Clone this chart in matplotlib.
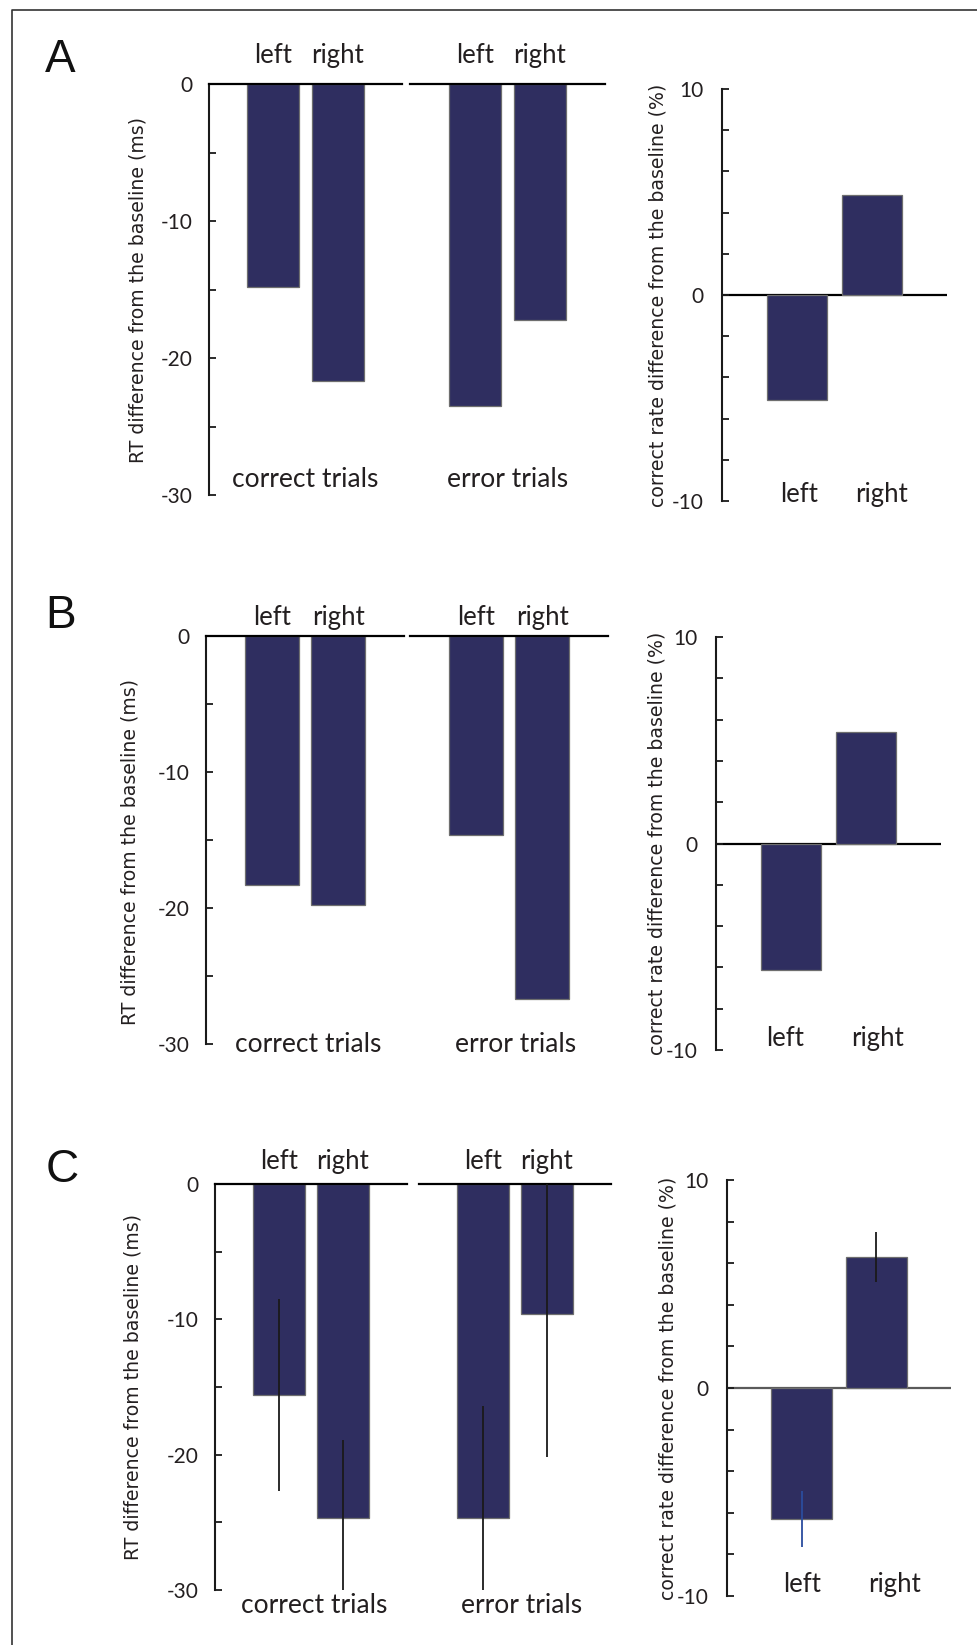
import matplotlib
matplotlib.use("Agg")
import matplotlib.pyplot as plt
from matplotlib.lines import Line2D
from matplotlib.ticker import MultipleLocator

# ---------------- data ----------------
sides = ["left", "right"]
trial_types = ["correct trials", "error trials"]
panel_letters = ["A", "B", "C"]
rt_ticks = [0, -10, -20, -30]
rate_ticks = [10, 0, -10]
rt_ylabel = "RT difference from the baseline (ms)"
rate_ylabel = "correct rate difference from the baseline (%)"

A_rt_correct = [-14.8, -21.7]
A_rt_error = [-23.5, -17.2]
A_rate = [-5.1, 4.85]

B_rt_correct = [-18.3, -19.75]
B_rt_error = [-14.65, -26.7]
B_rate = [-6.15, 5.4]

C_rt_correct = [-15.6, -24.7]
C_rt_correct_err = [7.1, 5.8]
C_rt_error = [-24.7, -9.6]
C_rt_error_err = [8.3, 10.6]
C_rate = [-6.3, 6.3]
C_rate_err = [1.35, 1.2]

# ---------------- style ----------------
W, H = 978, 1645
plt.rcParams["font.family"] = ["Lato", "DejaVu Sans"]
plt.rcParams["axes.unicode_minus"] = False
BAR = "#2f2e60"
EDGE = "#6e6e6e"
TXT = "#231f20"
LABEL_FONT = ["DejaVu Sans"]

fig = plt.figure(figsize=(W / 100, H / 100), dpi=100)
fig.patch.set_facecolor("white")


def box(x0, x1, y0, y1):
    return [x0 / W, 1 - y1 / H, (x1 - x0) / W, (y1 - y0) / H]


# layout of each panel row (pixel positions)
layouts = [
    dict(letter=(60, 60), ax1=(209, 402, 84, 495), ax2=(410, 605, 84, 495),
         axr=(722, 947, 89, 501), rt_lab=138, rate_lab=658, rt_lab_y=0.5,
         top_txt=1.5, bot_txt=-29.4, bot_dx=(0.0, 0.0), rate_txt=-10.05,
         rate_dx=(0.03, 0.13), zero_col="black"),
    dict(letter=(61, 616), ax1=(206, 404, 636, 1044), ax2=(410, 608, 636, 1044),
         axr=(716, 941, 637, 1050), rt_lab=130, rate_lab=657, rt_lab_y=0.47,
         top_txt=0.8, bot_txt=-30.6, bot_dx=(0.05, 0.1), rate_txt=-9.8,
         rate_dx=(-0.08, 0.15), zero_col="black"),
    dict(letter=(62, 1170), ax1=(215, 407, 1184, 1590), ax2=(419, 611, 1184, 1590),
         axr=(727, 951, 1180, 1596), rt_lab=133, rate_lab=668, rt_lab_y=0.5,
         top_txt=1.1, bot_txt=-31.7, bot_dx=(0.05, 0.1), rate_txt=-9.8,
         rate_dx=(0.0, 0.25), zero_col="#5a5a5a"),
]

rt_data = [
    (A_rt_correct, None, A_rt_error, None),
    (B_rt_correct, None, B_rt_error, None),
    (C_rt_correct, C_rt_correct_err, C_rt_error, C_rt_error_err),
]
rate_data = [(A_rate, None), (B_rate, None), (C_rate, C_rate_err)]

xpos = [0, 1]
BW = 0.81


def draw_bars(ax, vals, errs, ecolors=None):
    kw = dict(width=BW, color=BAR, edgecolor=EDGE, linewidth=0.9, zorder=2)
    ax.bar(xpos, vals, **kw)
    if errs is not None:
        for i, (v, e) in enumerate(zip(vals, errs)):
            c = ecolors[i] if ecolors else "#1a1a1a"
            ax.errorbar(xpos[i], v, yerr=e, fmt="none", ecolor=c,
                        elinewidth=1.3, capsize=0, zorder=3)


for row, lay in enumerate(layouts):
    corr, corr_err, err, err_err = rt_data[row]
    rate, rate_err = rate_data[row]

    # panel letter
    fig.text(lay["letter"][0] / W, 1 - lay["letter"][1] / H, panel_letters[row],
             fontsize=33, family=["Liberation Sans", "DejaVu Sans"],
             ha="center", va="center", color="#111111")

    # RT panels
    for k, (key, vals, evals) in enumerate([("ax1", corr, corr_err), ("ax2", err, err_err)]):
        x0, x1, y0, y1 = lay[key]
        ax = fig.add_axes(box(x0, x1, y0, y1))
        ax.set_xlim(-1, 2)
        ax.set_ylim(-30, 0)
        ax.patch.set_alpha(0)
        for s in ["right", "bottom"]:
            ax.spines[s].set_visible(False)
        ax.spines["top"].set_linewidth(1.6)
        ax.spines["top"].set_color("black")
        ax.set_xticks([])
        if k == 0:
            ax.spines["left"].set_linewidth(1.5)
            ax.spines["left"].set_color("#1a1a1a")
            ax.set_yticks(rt_ticks)
            ax.set_yticklabels([str(t) for t in rt_ticks])
            ax.yaxis.set_minor_locator(MultipleLocator(5))
            ax.tick_params(axis="y", which="both", direction="in", length=5,
                           width=1.3, pad=12, labelsize=15, colors="#1a1a1a",
                           labelcolor=TXT)
            ax.set_ylabel(rt_ylabel, family=LABEL_FONT, fontsize=13.6,
                          color=TXT, va="center")
            ax.yaxis.set_label_coords((lay["rt_lab"] - x0) / (x1 - x0), lay["rt_lab_y"])
        else:
            ax.spines["left"].set_visible(False)
            ax.set_yticks([])
        draw_bars(ax, vals, evals)
        for i, s in enumerate(sides):
            ax.text(xpos[i], lay["top_txt"], s, ha="center", va="baseline",
                    fontsize=18.5, color=TXT)
        ax.text(0.5 + lay["bot_dx"][k], lay["bot_txt"], trial_types[k],
                ha="center", va="baseline", fontsize=19, color=TXT)

    # correct-rate panel
    x0, x1, y0, y1 = lay["axr"]
    ax = fig.add_axes(box(x0, x1, y0, y1))
    ax.set_xlim(-1, 2)
    ax.set_ylim(-10, 10)
    ax.patch.set_alpha(0)
    for s in ["right", "bottom", "top"]:
        ax.spines[s].set_visible(False)
    ax.spines["left"].set_linewidth(1.5)
    ax.spines["left"].set_color("#1a1a1a")
    ax.axhline(0, color=lay["zero_col"], lw=1.6, zorder=1)
    ax.set_xticks([])
    ax.set_yticks(rate_ticks)
    ax.set_yticklabels([str(t) for t in rate_ticks])
    ax.yaxis.set_minor_locator(MultipleLocator(2))
    ax.tick_params(axis="y", which="both", direction="in", length=5, width=1.3,
                   pad=13, labelsize=15, colors="#1a1a1a", labelcolor=TXT)
    ax.set_ylabel(rate_ylabel, family=LABEL_FONT, fontsize=13.6, color=TXT,
                  va="center")
    ax.yaxis.set_label_coords((lay["rate_lab"] - x0) / (x1 - x0), 0.5)
    draw_bars(ax, rate, rate_err, ecolors=["#2b4c9e", "#1a1a1a"])
    for i, s in enumerate(sides):
        ax.text(xpos[i] + lay["rate_dx"][i], lay["rate_txt"], s, ha="center",
                va="baseline", fontsize=18.5, color=TXT)

# outer frame (top and left edges visible)
fig.add_artist(Line2D([11.7 / W, 11.7 / W, 1.0], [0.0, 1 - 9.5 / H, 1 - 9.5 / H],
                      transform=fig.transFigure, color="#333333", lw=1.2))

fig.savefig("out.png", dpi=100, facecolor="white")
